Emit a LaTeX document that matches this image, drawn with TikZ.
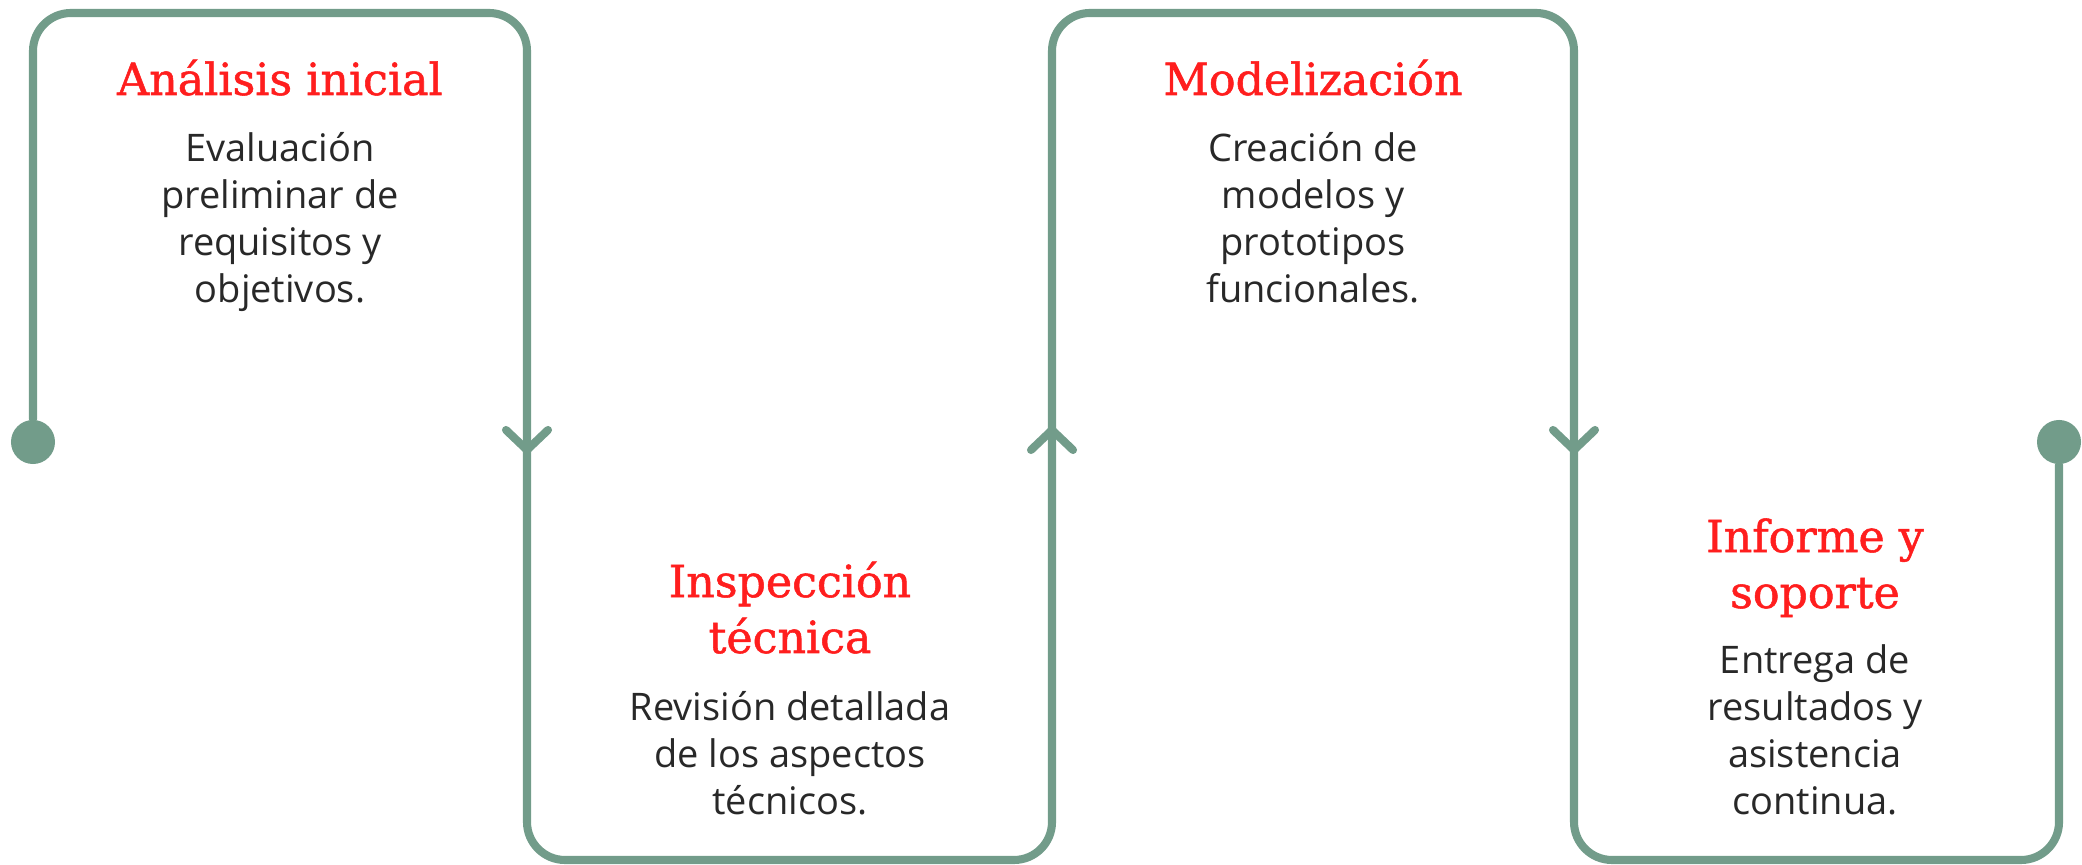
\documentclass[tikz,border=0pt]{standalone}
\usepackage{fontspec}
\setmainfont{Open Sans}
\newfontfamily\titlefont[FakeBold=1.2]{DejaVu Serif}
\usetikzlibrary{calc}
\definecolor{pathgreen}{RGB}{114,156,138}
\definecolor{titlered}{RGB}{255,30,30}
\definecolor{bodygray}{RGB}{40,40,40}
\tikzset{
  flow/.style={line width=2.3pt, pathgreen, rounded corners=0.38cm, line cap=round},
  chevron/.style={line width=2.3pt, pathgreen, line cap=round, line join=round},
  enddot/.style={circle, fill=pathgreen, minimum size=0.44cm, inner sep=0pt},
  steptitle/.style={anchor=base, align=center, inner sep=0pt, text=titlered,
                    font=\titlefont\fontsize{12.6pt}{15.9pt}\selectfont},
  steptext/.style={anchor=base, align=center, inner sep=0pt, text=bodygray,
                   font=\fontsize{10.8pt}{13.4pt}\selectfont},
}
\begin{document}
\begin{tikzpicture}[x=0.01cm, y=-0.01cm]
  \useasboundingbox (0,0) rectangle (2082,865);
  % snake path with the two end dots
  \node[enddot] (start) at (33,442) {};
  \node[enddot] (finish) at (2059,442) {};
  \coordinate (p1) at (33,13);
  \coordinate (p2) at (527,13);
  \coordinate (p3) at (527,860);
  \coordinate (p4) at (1052,860);
  \coordinate (p5) at (1052,13);
  \coordinate (p6) at (1574,13);
  \coordinate (p7) at (1574,860);
  \coordinate (p8) at (2059,860);
  \draw[flow] (start) -- (p1) -- (p2) -- (p3) -- (p4) -- (p5) -- (p6) -- (p7) -- (p8) -- (finish);
  % direction marks
  \coordinate (a1) at (527,450);
  \coordinate (a2) at (1052,430);
  \coordinate (a3) at (1574,450);
  \foreach \tip/\dir in {a1/1, a2/-1, a3/1}
    \draw[chevron] ($(\tip)+(-21,-20*\dir)$) -- (\tip) -- ($(\tip)+(21,-20*\dir)$);
  % steps (anchor = baseline of the last line)
  \node[steptitle] (t1) at (280,95) {Análisis inicial};
  \node[steptext] (d1) at (280,303) {Evaluación\\preliminar de\\requisitos y\\objetivos.};
  \node[steptitle] (t2) at (790,653) {Inspección\\técnica};
  \node[steptext] (d2) at (790,815) {Revisión detallada\\de los aspectos\\técnicos.};
  \node[steptitle] (t3) at (1313,95) {Modelización};
  \node[steptext] (d3) at (1313,303) {Creación de\\modelos y\\prototipos\\funcionales.};
  \node[steptitle] (t4) at (1815,608) {Informe y\\soporte};
  \node[steptext] (d4) at (1815,815) {Entrega de\\resultados y\\asistencia\\continua.};
\end{tikzpicture}
\end{document}
